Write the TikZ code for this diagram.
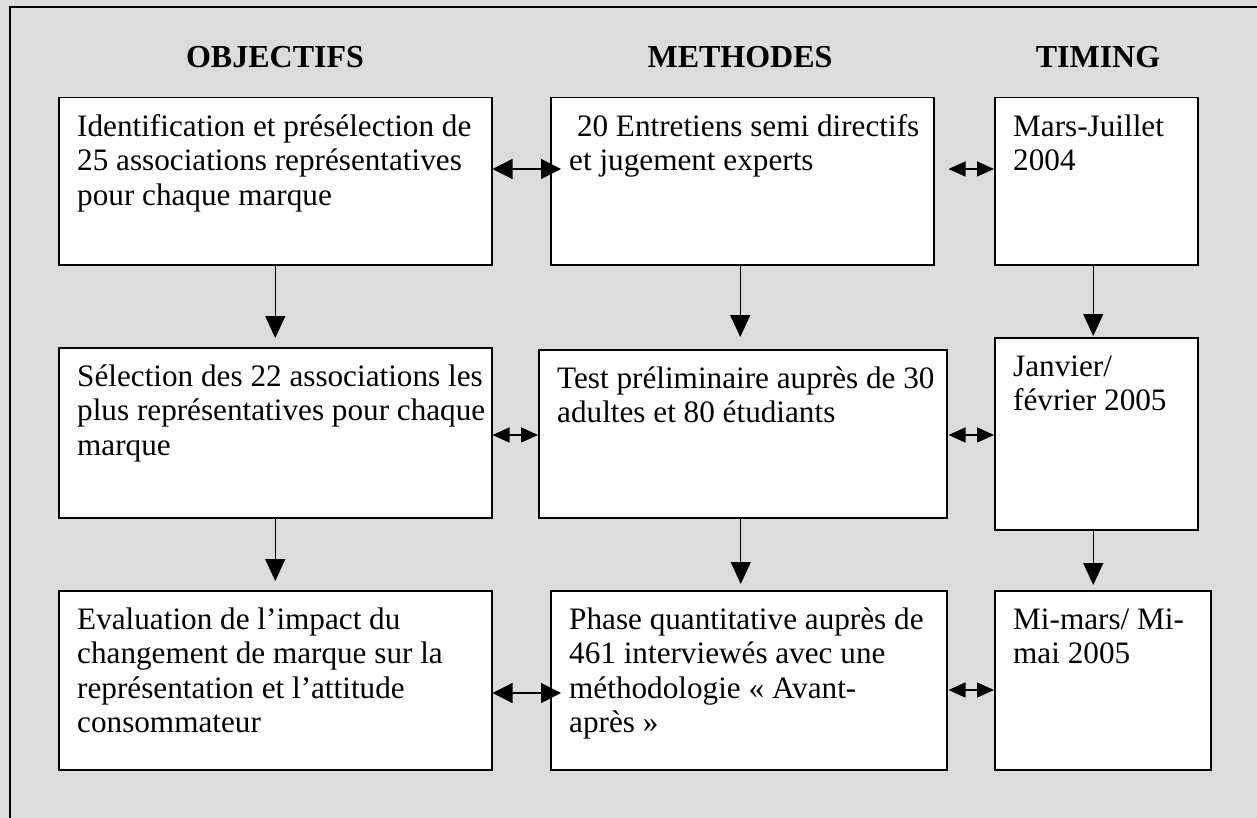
\documentclass[tikz,border=0pt]{standalone}
\usepackage{fontspec}
\setmainfont{Liberation Serif}
\usepackage{xcolor}
\usepackage{tikz}
\usetikzlibrary{arrows.meta}
\definecolor{panelgray}{RGB}{220,220,220}

\begin{document}
\begin{tikzpicture}[x=1pt, y=-1pt,
  cell/.style={draw, fill=white, line width=1.5pt, anchor=north west, inner sep=0pt},
  celltext/.style={anchor=north west, inner sep=0pt, align=left, font=\fontsize{31.2}{34.5}\selectfont},
  head/.style={anchor=base, font=\bfseries\fontsize{32}{38}\selectfont},
  down/.style={-{Triangle[length=22pt,width=20pt]}, line width=1.3pt},
  bigboth/.style={{Triangle[length=20pt,width=20pt]}-{Triangle[length=20pt,width=20pt]}, line width=1.3pt},
  smallboth/.style={{Triangle[length=17pt,width=15pt]}-{Triangle[length=17pt,width=15pt]}, line width=1.3pt}]
\useasboundingbox (0,0) rectangle (1257,818);
\fill[panelgray] (0,0) rectangle (1257,818);
\draw[line width=2pt] (10,818) -- (10,7) -- (1257,7);

\node[head] (hobj) at (275,68) {OBJECTIFS};
\node[head] (hmet) at (740,68) {METHODES};
\node[head] (htim) at (1098,68) {TIMING};

\node[cell, minimum width=433pt, minimum height=167pt] (obj1) at (58,97) {};
\node[cell, minimum width=383pt, minimum height=167pt] (met1) at (550,97) {};
\node[cell, minimum width=203pt, minimum height=167pt] (tim1) at (994,97) {};
\node[cell, minimum width=433pt, minimum height=170pt] (obj2) at (58,347) {};
\node[cell, minimum width=408pt, minimum height=168pt] (met2) at (538,349) {};
\node[cell, minimum width=203pt, minimum height=192pt] (tim2) at (994,337) {};
\node[cell, minimum width=433pt, minimum height=179pt] (obj3) at (58,590) {};
\node[cell, minimum width=396pt, minimum height=179pt] (met3) at (550,590) {};
\node[cell, minimum width=216pt, minimum height=179pt] (tim3) at (994,590) {};

\node[celltext] (obj1t) at ([shift={(19pt,-15pt)}]obj1.north west) {\strut Identification et présélection de\\25 associations représentatives\\pour chaque marque};
\node[celltext] (met1t) at ([shift={(19pt,-15pt)}]met1.north west) {\strut\hspace*{.25em}20 Entretiens semi directifs\\et jugement experts};
\node[celltext] (tim1t) at ([shift={(19pt,-15pt)}]tim1.north west) {\strut Mars-Juillet\\2004};
\node[celltext] (obj2t) at ([shift={(19pt,-15pt)}]obj2.north west) {\strut Sélection des 22 associations les\\plus représentatives pour chaque\\marque};
\node[celltext] (met2t) at ([shift={(19pt,-15pt)}]met2.north west) {\strut Test préliminaire auprès de 30\\adultes et 80 étudiants};
\node[celltext] (tim2t) at ([shift={(19pt,-15pt)}]tim2.north west) {\strut Janvier/\\février 2005};
\node[celltext] (obj3t) at ([shift={(19pt,-15pt)}]obj3.north west) {\strut Evaluation de l’impact du\\changement de marque sur la\\représentation et l’attitude\\consommateur};
\node[celltext] (met3t) at ([shift={(19pt,-15pt)}]met3.north west) {\strut Phase quantitative auprès de\\461 interviewés avec une\\méthodologie «~Avant-\\après~»};
\node[celltext] (tim3t) at ([shift={(19pt,-15pt)}]tim3.north west) {\strut Mi-mars/ Mi-\\mai 2005};

\coordinate (row1) at (0,169);
\coordinate (row2) at (0,435);
\coordinate (row3) at (0,693);
\coordinate (row3b) at (0,690);

\draw[down, shorten >=9pt] (obj1.south) -- (obj2.north);
\draw[down, shorten >=9pt] (obj2.south) -- (obj3.north);
\draw[down, shorten >=12pt] ([xshift=-2pt]met1.south) -- ([xshift=-2pt]met1.south |- met2.north);
\draw[down, shorten >=6pt] ([xshift=-2pt]met2.south) -- ([xshift=-2pt]met2.south |- met3.north);
\draw[down, shorten >=1pt] ([xshift=-3pt]tim1.south) -- ([xshift=-3pt]tim2.north);
\draw[down, shorten >=5pt] ([xshift=-3pt]tim2.south) -- ([xshift=-3pt]tim2.south |- tim3.north);

\draw[bigboth] (obj1.east |- row1) -- ([xshift=11pt]met1.west |- row1);
\draw[smallboth] ([xshift=14pt]met1.east |- row1) -- (tim1.west |- row1);
\draw[smallboth] (obj2.east |- row2) -- (met2.west |- row2);
\draw[smallboth] ([xshift=1pt]met2.east |- row2) -- (tim2.west |- row2);
\draw[bigboth] (obj3.east |- row3) -- ([xshift=11pt]met3.west |- row3);
\draw[smallboth] ([xshift=1pt]met3.east |- row3b) -- (tim3.west |- row3b);
\end{tikzpicture}
\end{document}
